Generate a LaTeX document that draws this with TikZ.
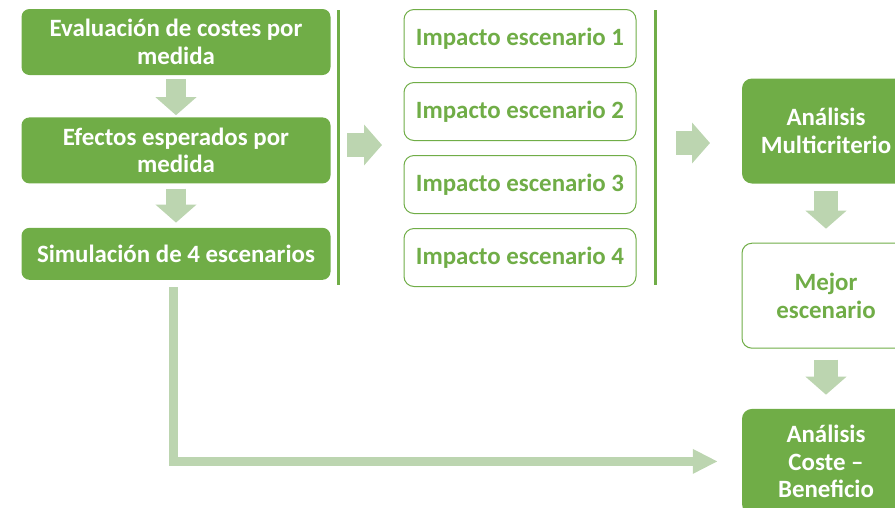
\documentclass[tikz,border=0pt]{standalone}
\usepackage{fontspec}
\setmainfont{Carlito}
\usetikzlibrary{positioning,arrows.meta}
\definecolor{verde}{HTML}{70AD47}
\definecolor{verdeclaro}{HTML}{BCD5B0}

\begin{document}
\begin{tikzpicture}[
        x=1pt, y=-1pt,
        node distance=42pt,
        font=\fontsize{24.9}{27.5}\selectfont\bfseries,
        caja/.style={rectangle, rounded corners=8pt, fill=verde, text=white, align=center, inner sep=2pt, minimum width=309pt},
        impacto/.style={rectangle, rounded corners=10pt, draw=verde, line width=1pt, fill=white, text=verde, align=center, minimum width=232pt, minimum height=58pt},
        final/.style={rectangle, rounded corners=10pt, align=center, minimum width=168pt, minimum height=105pt},
        flecha/.style={draw=verdeclaro, line width=20pt, -{Triangle[length=18pt, width=40pt]}},
        flechalarga/.style={draw=verdeclaro, line width=9pt, -{Triangle[length=25pt, width=23pt]}},
        barra/.style={draw=verde, line width=3pt}
    ]
    \clip (0,0) rectangle (895,507);

    % columna izquierda
    \node[caja, minimum height=66pt] (eval) at (176,42) {Evaluación de costes por\\medida};
    \node[caja, minimum height=66pt, below=of eval] (efec) {Efectos esperados por\\medida};
    \node[caja, minimum height=52pt, below=44pt of efec] (sim) {Simulación de 4 escenarios};

    \draw[flecha, shorten <=4pt, shorten >=2pt] (eval.south) -- (efec.north);
    \draw[flecha, shorten <=5pt, shorten >=5pt] (efec.south) -- (sim.north);

    % barras
    \coordinate (bi1) at (338,10);
    \coordinate (bi2) at (338,285);
    \coordinate (bd1) at (655,10);
    \coordinate (bd2) at (655,285);
    \draw[barra] (bi1) -- (bi2);
    \draw[barra] (bd1) -- (bd2);

    % impactos
    \node[impacto] (imp1) at (520,38.5) {Impacto escenario 1};
    \node[impacto, below=14pt of imp1] (imp2) {Impacto escenario 2};
    \node[impacto, below=14pt of imp2] (imp3) {Impacto escenario 3};
    \node[impacto, below=14pt of imp3] (imp4) {Impacto escenario 4};

    \coordinate (ai) at (347,145);
    \coordinate (af) at (382,145);
    \coordinate (bi) at (676,143);
    \coordinate (bf) at (710,143);
    \draw[flecha, line width=24pt] (ai) -- (af);
    \draw[flecha, line width=24pt] (bi) -- (bf);

    % columna derecha
    \node[final, fill=verde, text=white] (multi) at (826,131) {Análisis\\Multicriterio};
    \node[final, draw=verde, line width=1pt, fill=white, text=verde, below=59pt of multi] (mejor) {Mejor\\escenario};
    \node[final, fill=verde, text=white, below=60pt of mejor] (coste) {Análisis\\Coste –\\Beneficio};

    \draw[flecha, line width=24pt, shorten <=7pt, shorten >=14pt] (multi.south) -- (mejor.north);
    \draw[flecha, line width=24pt, shorten <=11pt, shorten >=14pt] (mejor.south) -- (coste.north);

    \draw[flechalarga, shorten <=7pt] ([xshift=-3pt]sim.south) |- ([xshift=-24pt]coste.west);
\end{tikzpicture}
\end{document}
